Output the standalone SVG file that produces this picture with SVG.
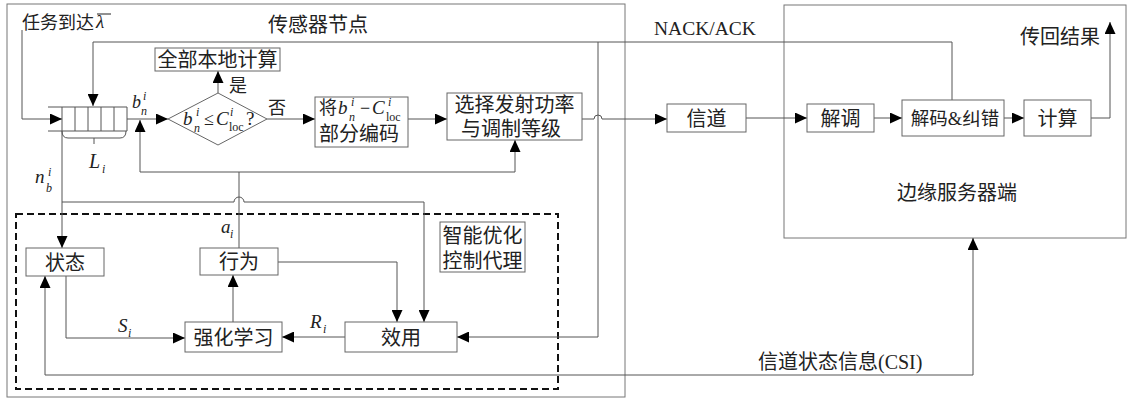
<svg xmlns="http://www.w3.org/2000/svg" width="1128" height="399" viewBox="0 0 1128 399">
<style>
.bx{fill:#fff;stroke:#666;stroke-width:1}
.frame{fill:none;stroke:#777;stroke-width:1}
.dash{fill:none;stroke:#111;stroke-width:2;stroke-dasharray:7 4}
.ln{fill:none;stroke:#555;stroke-width:1}
.ar{fill:none;stroke:#555;stroke-width:1;marker-end:url(#ah)}
.t{font-family:"Liberation Serif","Noto Sans CJK SC",serif;font-size:20px;fill:#222}
.c{text-anchor:middle}
.m{font-family:"Liberation Serif",serif;font-style:italic;font-size:19px;fill:#222}
.s{font-family:"Liberation Serif",serif;font-style:italic;font-size:12px;fill:#222}
.r{font-family:"Liberation Serif",serif;font-size:12px;fill:#222}
</style>
<defs>
<marker id="ah" markerUnits="userSpaceOnUse" markerWidth="12" markerHeight="11" refX="12" refY="5.5" orient="auto">
<path d="M0,0 L12,5.5 L0,11 z" fill="#000"/>
</marker>
</defs>
<rect width="1128" height="399" fill="#fff"/>

<g id="sensor-node">
<rect class="frame" x="7" y="4" width="618" height="393"/>
<text class="t" x="268" y="32">传感器节点</text>
</g>
<g id="edge-server">
<rect class="frame" x="784" y="5" width="342" height="233"/>
<text class="t" x="897" y="200">边缘服务器端</text>
</g>
<g id="agent">
<rect class="dash" x="16" y="214" width="542" height="175"/>
</g>

<g id="connectors">
<path class="ar" d="M22,30 V119 H62"/>
<path class="ar" d="M952,100 V42 H93 V106"/>
<path class="ar" d="M598,42 V337 H457"/>
<path class="ar" d="M127,119 H168"/>
<path class="ar" d="M218,93 V71"/>
<path class="ar" d="M267,119 H315"/>
<path class="ar" d="M408,119 H447"/>
<path class="ar" d="M582,119 H594 A4,4 0 0 1 602,119 H667"/>
<path class="ar" d="M746,118 H807"/>
<path class="ar" d="M874,118 H902"/>
<path class="ar" d="M1004,118 H1024"/>
<path class="ar" d="M1091,118 H1110 V22"/>
<path class="ln" d="M239,248 V172"/>
<path class="ar" d="M140,172 V120"/>
<path class="ar" d="M140,172 H515 V140"/>
<path class="ar" d="M62,131 V248"/>
<path class="ar" d="M62,202 H234 A5,5 0 0 1 244,202 H424 V322"/>
<path class="ar" d="M278,262 H397 V322"/>
<path class="ar" d="M66,276 V338 H185"/>
<path class="ar" d="M345,337 H282"/>
<path class="ar" d="M233,322 V275"/>
<path class="ar" d="M45,375 V276"/>
<path class="ar" d="M45,375 H973 V238"/>
</g>

<g id="queue">
<path class="ln" d="M48,107 H127 M48,131 H127 M62,107 V131 M75,107 V131 M88,107 V131 M101,107 V131 M114,107 V131 M127,107 V131"/>
<path class="ln" d="M62,131 Q62,138 68,138 H120 Q126,138 126,131 M94,138 V144"/>
</g>

<g id="decision">
<path class="bx" d="M168,119 L218,93 L267,119 L218,145 Z"/>
<text class="m" x="183" y="125">b</text>
<text class="s" x="196" y="116">i</text>
<text class="s" x="194" y="132">n</text>
<text class="t" x="204" y="125" style="font-family:'Liberation Serif',serif;font-size:18px">≤</text>
<text class="m" x="216" y="125">C</text>
<text class="s" x="230" y="116">i</text>
<text class="r" x="229" y="131">loc</text>
<text class="t" x="246" y="125" style="font-family:'Liberation Serif',serif;font-size:19px">?</text>
</g>

<g id="local-compute">
<rect class="bx" x="155" y="48" width="125" height="23"/>
<text class="t c" x="217.5" y="67">全部本地计算</text>
</g>

<g id="partial-encode">
<rect class="bx" x="315" y="97" width="93" height="50"/>
<text class="t" x="319" y="114" style="font-size:18px">将</text>
<text class="m" x="338" y="114">b</text>
<text class="s" x="351" y="106">i</text>
<text class="s" x="349" y="121">n</text>
<text class="t" x="360" y="114" style="font-family:'Liberation Serif',serif;font-size:18px">−</text>
<text class="m" x="372" y="114">C</text>
<text class="s" x="388" y="106">i</text>
<text class="r" x="386" y="121">loc</text>
<text class="t c" x="359" y="141">部分编码</text>
</g>

<g id="select-power">
<rect class="bx" x="447" y="93" width="135" height="47"/>
<text class="t c" x="514.5" y="112">选择发射功率</text>
<text class="t c" x="511" y="136">与调制等级</text>
</g>

<g id="channel">
<rect class="bx" x="667" y="104" width="79" height="28"/>
<text class="t c" x="706.5" y="125.5">信道</text>
</g>
<g id="demod">
<rect class="bx" x="807" y="104" width="67" height="28"/>
<text class="t c" x="840.5" y="125.5">解调</text>
</g>
<g id="decode">
<rect class="bx" x="902" y="100" width="102" height="36"/>
<text class="t c" x="955" y="125" style="font-size:18.5px">解码&amp;纠错</text>
</g>
<g id="compute">
<rect class="bx" x="1024" y="100" width="67" height="36"/>
<text class="t c" x="1057.5" y="125.5">计算</text>
</g>

<g id="state">
<rect class="bx" x="26" y="248" width="78" height="28"/>
<text class="t c" x="65" y="269.5">状态</text>
</g>
<g id="action">
<rect class="bx" x="200" y="248" width="78" height="27"/>
<text class="t c" x="239" y="269">行为</text>
</g>
<g id="rl">
<rect class="bx" x="185" y="322" width="97" height="30"/>
<text class="t c" x="233.5" y="344.5">强化学习</text>
</g>
<g id="utility">
<rect class="bx" x="345" y="322" width="112" height="30"/>
<text class="t c" x="401" y="344.5">效用</text>
</g>
<g id="agent-label">
<rect class="bx" x="440" y="222" width="85" height="50"/>
<text class="t c" x="482.5" y="242.5">智能优化</text>
<text class="t c" x="482.5" y="267.5">控制代理</text>
</g>

<g id="labels">
<text class="t" x="22" y="28.5" style="font-size:18px">任务到达</text>
<text class="m" x="96" y="28">λ</text>
<line x1="97" y1="14" x2="111" y2="14" stroke="#222" stroke-width="1"/>
<text class="t" x="654" y="35" style="font-family:'Liberation Serif',serif;font-size:19.5px">NACK/ACK</text>
<text class="t" x="1020" y="44">传回结果</text>
<text class="t" x="758" y="369">信道状态信息(CSI)</text>
<text class="t" x="229" y="92" style="font-size:18px">是</text>
<text class="t" x="268" y="114" style="font-size:18px">否</text>
<text class="m" x="132" y="108" style="font-size:18px">b</text>
<text class="s" x="143" y="100">i</text>
<text class="s" x="141" y="115">n</text>
<text class="m" x="89" y="168" style="font-size:20px">L</text>
<text class="s" x="102" y="173">i</text>
<text class="m" x="35" y="183">n</text>
<text class="s" x="48" y="176">i</text>
<text class="s" x="46" y="192">b</text>
<text class="m" x="221" y="233">a</text>
<text class="s" x="230" y="238">i</text>
<text class="m" x="118" y="332">S</text>
<text class="s" x="128" y="337">i</text>
<text class="m" x="310" y="328">R</text>
<text class="s" x="323" y="333">i</text>
</g>
</svg>
